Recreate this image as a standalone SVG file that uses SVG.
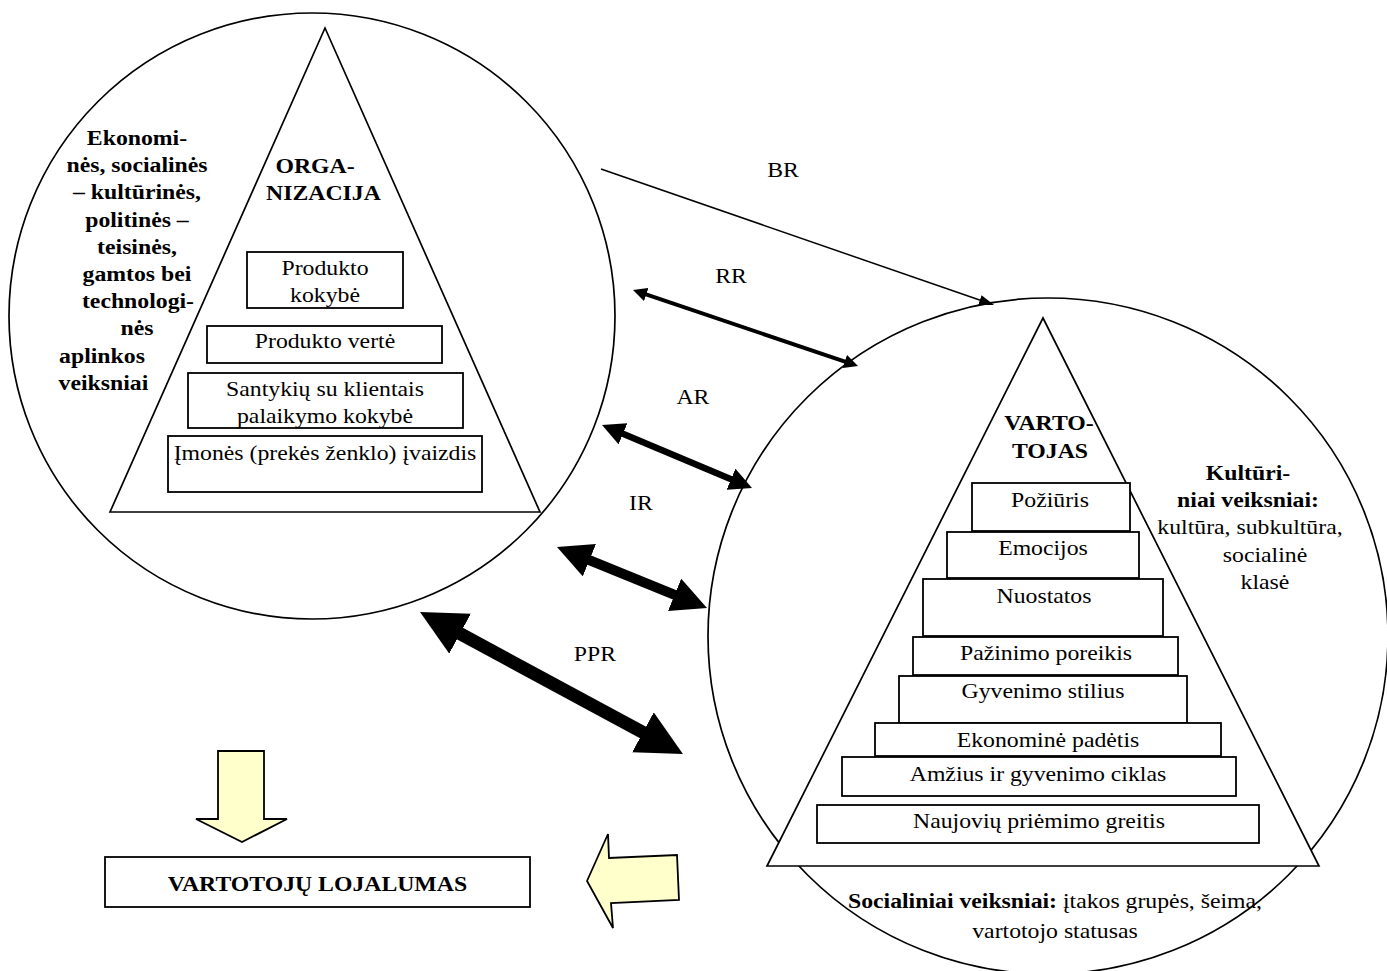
<svg xmlns="http://www.w3.org/2000/svg" width="1387" height="971" viewBox="0 0 1387 971">
<style>
text{font-family:"Liberation Serif","Times New Roman",serif;font-size:22px;fill:#000;text-anchor:middle;transform-box:fill-box;transform-origin:center;transform:scaleX(1.08)}
.b{font-weight:bold}
.sh{fill:#fff;stroke:#000;stroke-width:1.7}
.bx{fill:#fff;stroke:#000;stroke-width:1.8}
.ya{fill:#FFFFCC;stroke:#000;stroke-width:1.8;stroke-linejoin:miter}
.ln{fill:none;stroke:#000}
</style>
<defs>
<marker id="mh" viewBox="0 0 3.5 3.5" markerWidth="3.5" markerHeight="3.5" refX="2" refY="1.75" orient="auto-start-reverse" markerUnits="strokeWidth"><path d="M0,0 L3.5,1.75 L0,3.5 z" fill="#000"/></marker>
<marker id="mt" viewBox="0 0 10 7" markerWidth="10" markerHeight="7" refX="8.5" refY="3.5" orient="auto" markerUnits="strokeWidth"><path d="M0,0 L10,3.5 L0,7 z" fill="#000"/></marker>
</defs>
<rect width="1387" height="971" fill="#fff"/>

<g id="organizacija">
<circle class="sh" cx="312" cy="316" r="303"/>
<polygon class="sh" points="325,28 540,512 110,512"/>
<text class="b" x="315" y="173">ORGA-</text>
<text class="b" x="323.5" y="200">NIZACIJA</text>
<g id="org-aplinka">
<text class="b" x="137" y="145">Ekonomi-</text>
<text class="b" x="137" y="172">nės, socialinės</text>
<text class="b" x="137" y="199">– kultūrinės,</text>
<text class="b" x="137" y="227">politinės –</text>
<text class="b" x="137" y="254">teisinės,</text>
<text class="b" x="137" y="281">gamtos bei</text>
<text class="b" x="138" y="308">technologi-</text>
<text class="b" x="137" y="335">nės</text>
<text class="b" x="102" y="363">aplinkos</text>
<text class="b" x="103.5" y="390">veiksniai</text>
</g>
<g id="org-kokybe"><rect class="bx" x="247" y="252" width="156" height="56"/><text x="325" y="275">Produkto</text><text x="325" y="302">kokybė</text></g>
<g id="org-verte"><rect class="bx" x="207" y="326" width="235" height="37"/><text x="325" y="348">Produkto vertė</text></g>
<g id="org-santykiai"><rect class="bx" x="188" y="373" width="275" height="55"/><text x="325" y="396">Santykių su klientais</text><text x="325" y="423">palaikymo kokybė</text></g>
<g id="org-ivaizdis"><rect class="bx" x="168" y="436" width="314" height="56"/><text x="325" y="460">Įmonės (prekės ženklo) įvaizdis</text></g>
</g>

<g id="vartotojas">
<ellipse class="sh" cx="1048" cy="636" rx="340" ry="338"/>
<polygon class="sh" points="1043,318 1319,866 767,866"/>
<text class="b" x="1049" y="430">VARTO-</text>
<text class="b" x="1050" y="458">TOJAS</text>
<g id="v-poziuris"><rect class="bx" x="972" y="483" width="158" height="48"/><text x="1050" y="507">Požiūris</text></g>
<g id="v-emocijos"><rect class="bx" x="947" y="532" width="192" height="46"/><text x="1043" y="555">Emocijos</text></g>
<g id="v-nuostatos"><rect class="bx" x="923" y="579" width="240" height="57"/><text x="1044" y="603">Nuostatos</text></g>
<g id="v-pazinimo"><rect class="bx" x="913" y="637" width="265" height="38"/><text x="1046" y="660">Pažinimo poreikis</text></g>
<g id="v-gyvenimo"><rect class="bx" x="899" y="676" width="288" height="47"/><text x="1043" y="698">Gyvenimo stilius</text></g>
<g id="v-ekonomine"><rect class="bx" x="875" y="723" width="346" height="33"/><text x="1048" y="747">Ekonominė padėtis</text></g>
<g id="v-amzius"><rect class="bx" x="842" y="757" width="394" height="39"/><text x="1038" y="781">Amžius ir gyvenimo ciklas</text></g>
<g id="v-naujoviu"><rect class="bx" x="817" y="805" width="442" height="38"/><text x="1039" y="828">Naujovių priėmimo greitis</text></g>
<g id="v-kulturiniai">
<text class="b" x="1248" y="480">Kultūri-</text>
<text class="b" x="1248" y="507">niai veiksniai:</text>
<text x="1250" y="534">kultūra, subkultūra,</text>
<text x="1265" y="562">socialinė</text>
<text x="1265" y="589">klasė</text>
</g>
<g id="v-socialiniai">
<text x="1055" y="908"><tspan class="b">Socialiniai veiksniai:</tspan> įtakos grupės, šeima,</text>
<text x="1055" y="938">vartotojo statusas</text>
</g>
</g>

<g id="lojalumas">
<rect class="bx" x="105" y="857" width="425" height="50"/>
<text class="b" x="317.5" y="891">VARTOTOJŲ LOJALUMAS</text>
</g>

<g id="connectors">
<line class="ln" x1="601" y1="169" x2="991.9" y2="304.3" stroke-width="1.5" marker-end="url(#mt)"/>
<line class="ln" x1="638.7" y1="291.9" x2="852.3" y2="364.1" stroke-width="4" marker-start="url(#mh)" marker-end="url(#mh)"/>
<line class="ln" x1="611" y1="428.8" x2="743" y2="484.2" stroke-width="6.5" marker-start="url(#mh)" marker-end="url(#mh)"/>
<line class="ln" x1="570.9" y1="552.65" x2="693.1" y2="602.35" stroke-width="10" marker-start="url(#mh)" marker-end="url(#mh)"/>
<line class="ln" x1="437.2" y1="621.3" x2="665.8" y2="744.7" stroke-width="13" marker-start="url(#mh)" marker-end="url(#mh)"/>
<polygon class="ya" points="218,751 264,751 264,819 287,819 242,842 196,819 218,819"/>
<polygon class="ya" points="587,881 608,834 609,858 677,855 679,900 611,903 613,928"/>
<text x="783" y="177">BR</text>
<text x="731" y="283">RR</text>
<text x="693" y="404">AR</text>
<text x="641" y="510">IR</text>
<text x="595" y="661">PPR</text>
</g>
</svg>
